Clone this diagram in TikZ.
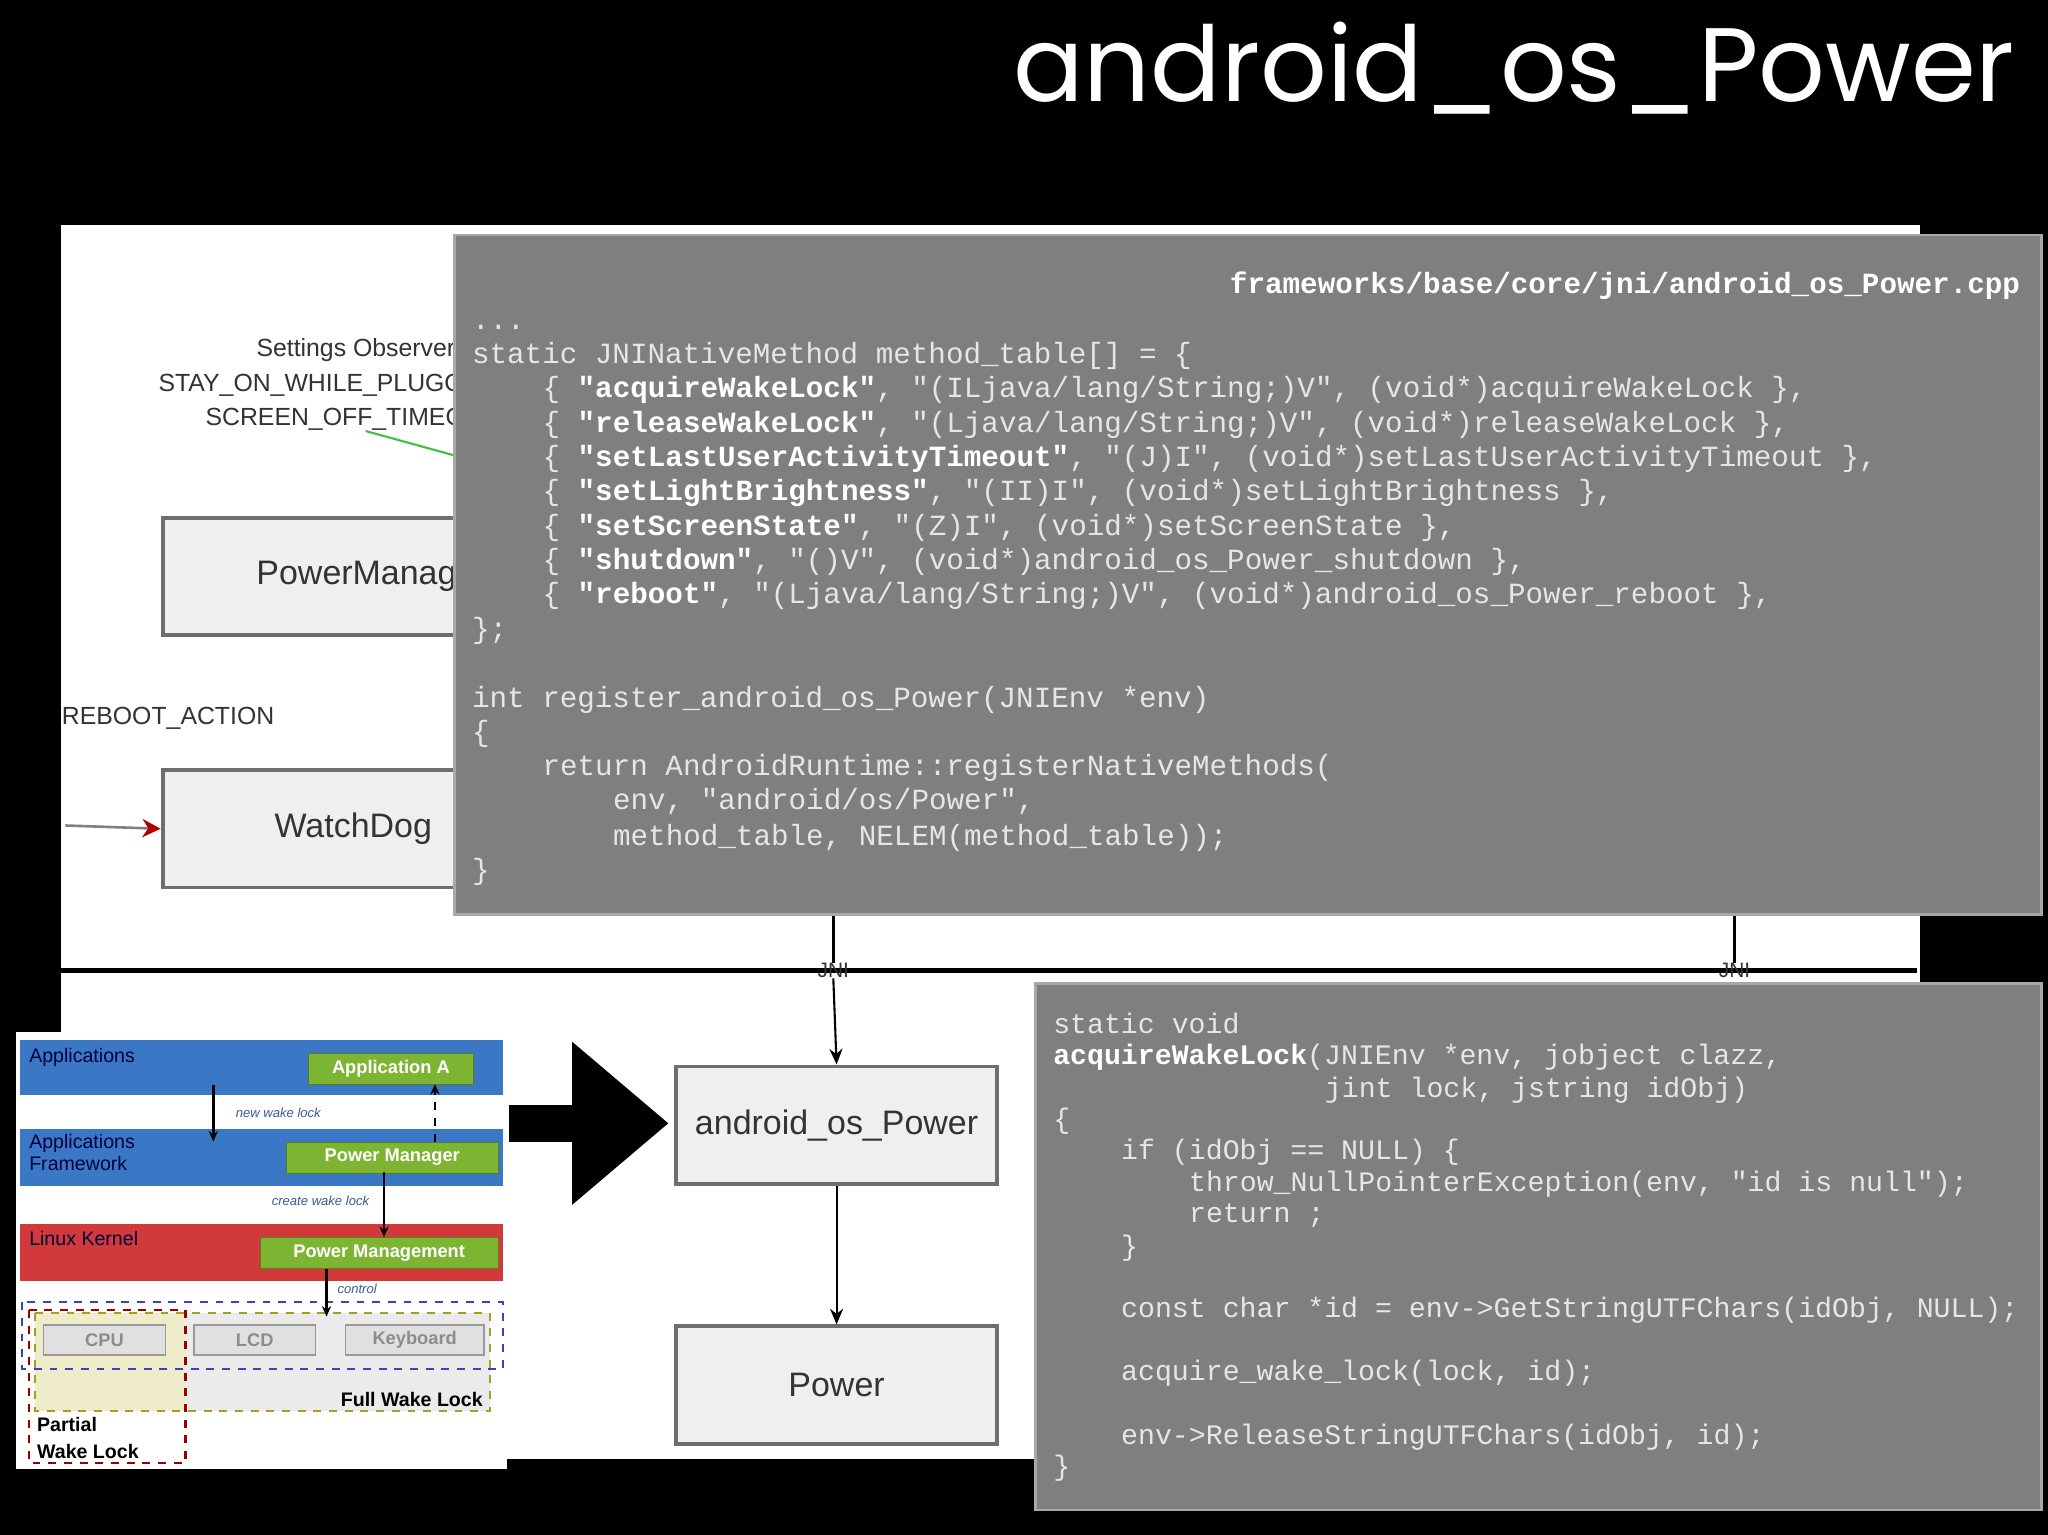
\documentclass[tikz,border=0pt]{standalone}
\usepackage{fontspec}
\setmainfont{Liberation Sans}
\setmonofont{Liberation Mono}
\newfontfamily\titlefont{Poppins}
\usetikzlibrary{arrows.meta}
\definecolor{codebg}{HTML}{7F7F7F}
\definecolor{codeborder}{HTML}{A8A8A8}
\definecolor{codetxt}{HTML}{E6E6E6}
\definecolor{boxfill}{HTML}{EFEFEF}
\definecolor{boxline}{HTML}{6E6E6E}
\definecolor{diagtxt}{HTML}{333333}
\definecolor{barblue}{HTML}{3A78C6}
\definecolor{barred}{HTML}{D23A3A}
\definecolor{greenbox}{HTML}{7DB432}
\definecolor{labblue}{HTML}{3B5C9A}
\tikzset{
  codeA/.style={anchor=base west,inner sep=0pt,text=codetxt,font=\fontsize{11.2pt}{13pt}\ttfamily},
  codeB/.style={anchor=base west,inner sep=0pt,text=codetxt,font=\fontsize{10.8pt}{12pt}\ttfamily},
  codebox/.style={fill=codebg,draw=codeborder,line width=1pt},
  diagbox/.style={fill=boxfill,draw=boxline,line width=1.5pt,inner sep=0pt,text=diagtxt,font=\fontsize{13pt}{15pt}\selectfont},
  diagarrow/.style={draw=black,line width=0.8pt,-{Stealth[length=6pt,width=5pt]}},
  bar/.style={inner sep=0pt},
  greenlab/.style={fill=greenbox,draw=greenbox!70!black,line width=0.3pt,text=white,font=\fontsize{7pt}{8pt}\bfseries,inner sep=0pt},
  barlab/.style={anchor=north west,inner sep=0pt,text=black!75!blue,font=\fontsize{7.5pt}{8.5pt}\selectfont,align=left},
  smalllab/.style={inner sep=0pt,text=labblue,font=\fontsize{5pt}{6pt}\itshape},
  hwbox/.style={fill=black!12,draw=black!40,line width=0.5pt,text=black!45,font=\fontsize{7pt}{8pt}\bfseries,inner sep=0pt},
  smallarrow/.style={line width=1pt,-{Stealth[length=4pt,width=3.5pt]}}
}
\begin{document}
\begin{tikzpicture}[x=0.5pt,y=-0.5pt]
\useasboundingbox (0,0) rectangle (1568,1175);
\fill[black] (0,0) rectangle (1568,1175);
% title
\node[anchor=base east,inner sep=0pt,text=white,font=\fontsize{40pt}{44pt}\titlefont] (title) at (1543,78) {android\_os\_Power};
% white panel
\fill[white] (47,172) rectangle (1470,1117);
% left background diagram
\node[anchor=base west,inner sep=0pt,text=diagtxt,font=\fontsize{9.5pt}{11pt}\selectfont] (so1) at (196,273) {Settings Observer};
\node[anchor=base west,inner sep=0pt,text=diagtxt,font=\fontsize{9.5pt}{11pt}\selectfont] (so2) at (121,300) {STAY\_ON\_WHILE\_PLUGGED\_IN};
\node[anchor=base west,inner sep=0pt,text=diagtxt,font=\fontsize{9.5pt}{11pt}\selectfont] (so3) at (157,326) {SCREEN\_OFF\_TIMEOUT};
\coordinate (g1) at (280,330);
\coordinate (g2) at (360,352);
\draw[green!50!gray,line width=0.8pt] (g1) -- (g2);
\node[diagbox,minimum width=230pt,minimum height=45pt,anchor=north west] (pm) at (123,395) {PowerManager\hspace*{70pt}};
\node[anchor=base west,inner sep=0pt,text=diagtxt,font=\fontsize{9.5pt}{11pt}\selectfont] (reboot) at (47,555) {REBOOT\_ACTION};
\node[diagbox,minimum width=230pt,minimum height=45pt,anchor=north west] (wd) at (123,588) {WatchDog\hspace*{84pt}};
\coordinate (wdin) at (50,632);
\draw[gray,line width=1pt,-{Stealth[length=7pt,width=7pt,color=red!70!black]}] (wdin) -- (wd.west);
% JNI line
\coordinate (l0) at (47,743);
\coordinate (l1) at (1468,743);
\draw[black,line width=2pt] (l0) -- (l1);
\coordinate (j1t) at (638,700);
\coordinate (j2t) at (1328,700);
\node[inner sep=0pt,text=diagtxt,font=\fontsize{8pt}{9pt}\selectfont] (jni1) at (638,743) {JNI};
\node[inner sep=0pt,text=diagtxt,font=\fontsize{8pt}{9pt}\selectfont] (jni2) at (1328,743) {JNI};
\draw[black,line width=1pt] (j1t) -- (jni1.north);
\draw[black,line width=1pt] (j2t) -- (jni2.north);
\node[diagbox,minimum width=123pt,minimum height=45pt,anchor=north west] (aop) at (516,815) {android\_os\_Power};
\node[diagbox,minimum width=123pt,minimum height=45pt,anchor=north west] (pw) at (516,1014) {Power};
\draw[diagarrow] (jni1.south) -- (aop.north);
\draw[diagarrow] (aop.south) -- (pw.north);
% big arrow
\coordinate (ba0) at (390,860);
\coordinate (ba1) at (512,860);
\draw[black,line width=14pt,-{Triangle[length=37pt,width=60pt]}] (ba0) -- (ba1);
% code box 1
\node[codebox,minimum width=607.5pt,minimum height=260pt,anchor=north west,inner sep=0pt] (cb1) at (347,179) {};
\node[anchor=base east,inner sep=0pt,text=white,font=\fontsize{11.2pt}{13pt}\ttfamily\bfseries] (hdr) at (1547,225) {frameworks/base/core/jni/android\_os\_Power.cpp};
\node[codeA] (a1) at (361,252) {...};
\node[codeA] (a2) at (361,278) {static JNINativeMethod method\_table[] = \{};
\node[codeA] (a3) at (415,304) {\{ \textbf{\color{white}"acquireWakeLock"}, "(ILjava/lang/String;)V", (void*)acquireWakeLock \},};
\node[codeA] (a4) at (415,331) {\{ \textbf{\color{white}"releaseWakeLock"}, "(Ljava/lang/String;)V", (void*)releaseWakeLock \},};
\node[codeA] (a5) at (415,357) {\{ \textbf{\color{white}"setLastUserActivityTimeout"}, "(J)I", (void*)setLastUserActivityTimeout \},};
\node[codeA] (a6) at (415,383) {\{ \textbf{\color{white}"setLightBrightness"}, "(II)I", (void*)setLightBrightness \},};
\node[codeA] (a7) at (415,410) {\{ \textbf{\color{white}"setScreenState"}, "(Z)I", (void*)setScreenState \},};
\node[codeA] (a8) at (415,436) {\{ \textbf{\color{white}"shutdown"}, "()V", (void*)android\_os\_Power\_shutdown \},};
\node[codeA] (a9) at (415,462) {\{ \textbf{\color{white}"reboot"}, "(Ljava/lang/String;)V", (void*)android\_os\_Power\_reboot \},};
\node[codeA] (a10) at (361,489) {\};};
\node[codeA] (a11) at (361,542) {int register\_android\_os\_Power(JNIEnv *env)};
\node[codeA] (a12) at (361,568) {\{};
\node[codeA] (a13) at (415,594) {return AndroidRuntime::registerNativeMethods(};
\node[codeA] (a14) at (469,620) {env, "android/os/Power",};
\node[codeA] (a15) at (469,647) {method\_table, NELEM(method\_table));};
\node[codeA] (a16) at (361,673) {\}};
% code box 2
\node[codebox,minimum width=385pt,minimum height=201.5pt,anchor=north west,inner sep=0pt] (cb2) at (792,752) {};
\node[codeB] (b1) at (806,791) {static void};
\node[codeB] (b2) at (806,815) {\textbf{\color{white}acquireWakeLock}(JNIEnv *env, jobject clazz,};
\node[codeB] (b3) at (1014,840) {jint lock, jstring idObj)};
\node[codeB] (b4) at (806,864) {\{};
\node[codeB] (b5) at (858,888) {if (idObj == NULL) \{};
\node[codeB] (b6) at (910,912) {throw\_NullPointerException(env, "id is null");};
\node[codeB] (b7) at (910,936) {return ;};
\node[codeB] (b8) at (858,961) {\}};
\node[codeB] (b9) at (858,1009) {const char *id = env->GetStringUTFChars(idObj, NULL);};
\node[codeB] (b10) at (858,1057) {acquire\_wake\_lock(lock, id);};
\node[codeB] (b11) at (858,1106) {env->ReleaseStringUTFChars(idObj, id);};
\node[codeB] (b12) at (806,1130) {\}};
% small wake lock diagram
\fill[white] (12,790) rectangle (388,1125);
\fill[barblue] (15,796) rectangle (385,838);
\fill[barblue] (15,864) rectangle (385,908);
\fill[barred] (15,937) rectangle (385,981);
\node[barlab] (lapp) at (22,802) {Applications};
\node[barlab] (lfw) at (22,868) {Applications\\Framework};
\node[barlab] (llk) at (22,942) {Linux Kernel};
\node[greenlab,minimum width=63pt,minimum height=12pt,anchor=north west] (appa) at (236,806) {Application A};
\node[greenlab,minimum width=81pt,minimum height=12pt,anchor=north west] (pmg) at (219,874) {Power Manager};
\node[greenlab,minimum width=91pt,minimum height=12pt,anchor=north west] (pmt) at (199,947) {Power Management};
% hardware area
\fill[black!8] (27,1005) rectangle (375,1080);
\fill[olive!15] (27,1005) rectangle (142,1080);
\node[hwbox,minimum width=46.5pt,minimum height=11.5pt,anchor=north west] (cpu) at (33,1014) {CPU};
\node[hwbox,minimum width=46.5pt,minimum height=11.5pt,anchor=north west] (lcd) at (148,1014) {LCD};
\node[hwbox,minimum width=53pt,minimum height=11.5pt,anchor=north west] (kbd) at (264,1014) {Keyboard};
\draw[blue!50!gray,dashed,line width=0.8pt] (17,997) rectangle (385,1048);
\draw[olive!80,dashed,line width=0.8pt] (27,1005) rectangle (375,1080);
\draw[red!60!black,dashed,line width=0.8pt] (22,1003) rectangle (142,1120);
\node[anchor=base east,inner sep=0pt,font=\fontsize{7.5pt}{8.5pt}\bfseries] (fwl) at (370,1077) {Full Wake Lock};
\node[anchor=north west,inner sep=0pt,align=left,font=\fontsize{7.5pt}{10pt}\bfseries] (pwl) at (28,1085) {Partial\\Wake Lock};
\coordinate (hwtop) at (250,1008);
\draw[smallarrow] ([xshift=-68pt]appa.south) -- ([xshift=-68pt]appa.south |- pmg.north);
\coordinate (up0) at (333,874);
\coordinate (up1) at (333,830);
\draw[smallarrow,dashed,line width=0.8pt] (up0) -- (up1);
\draw[smallarrow] (294,897) -- (294,947);
\draw[smallarrow] (pmt.south -| hwtop) -- (hwtop);
\node[smalllab,anchor=east] (nwl) at (246,852) {new wake lock};
\node[smalllab,anchor=east] (cwl) at (283,919) {create wake lock};
\node[smalllab,anchor=west] (ctl) at (258,987) {control};
\end{tikzpicture}
\end{document}
